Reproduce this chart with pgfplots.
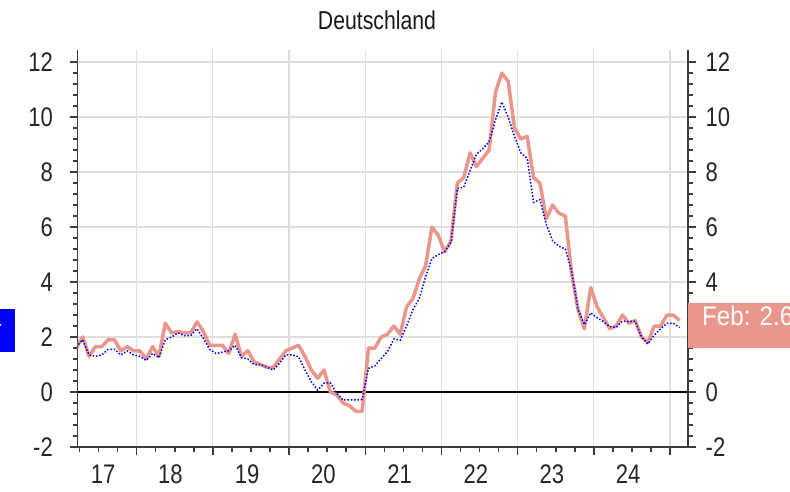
\documentclass[border=0pt]{standalone}
\usepackage{fontspec}
\setmainfont{Liberation Sans}[FakeStretch=0.82]
\newfontfamily\boxfont{Liberation Sans}[FakeStretch=0.9]
\usepackage{pgfplots}
\usepackage{pgfplotstable}
\pgfplotsset{compat=1.18}
\definecolor{salmon}{RGB}{233,150,140}
\definecolor{gridc}{RGB}{222,222,222}
\definecolor{axisc}{RGB}{60,60,60}

\pgfplotstableread{
x s b
2.5 1.6 1.64
3.5 2.0 1.9
4.5 1.3 1.35
5.5 1.65 1.3
6.5 1.65 1.35
7.5 1.9 1.55
8.5 1.9 1.55
9.5 1.5 1.35
10.5 1.65 1.5
11.5 1.5 1.35
12.5 1.5 1.3
13.5 1.2 1.15
14.5 1.65 1.4
15.5 1.3 1.25
16.5 2.5 1.9
17.5 2.15 2.0
18.5 2.2 2.15
19.5 2.15 2.05
20.5 2.15 2.05
21.5 2.55 2.3
22.5 2.2 1.95
23.5 1.7 1.55
24.5 1.7 1.4
25.5 1.7 1.45
26.5 1.4 1.5
27.5 2.1 1.7
28.5 1.3 1.25
29.5 1.5 1.2
30.5 1.1 1.0
31.5 1.0 1.0
32.5 0.9 0.9
33.5 0.9 0.8
34.5 1.2 1.05
35.5 1.5 1.35
36.5 1.6 1.35
37.5 1.7 1.28
38.5 1.3 0.8
39.5 0.8 0.38
40.5 0.5 0.07
41.5 0.8 0.32
42.5 0.0 0.34
43.5 -0.1 -0.05
44.5 -0.4 -0.29
45.5 -0.5 -0.29
46.5 -0.7 -0.29
47.5 -0.7 -0.27
48.5 1.6 0.86
49.5 1.6 0.95
50.5 2.0 1.22
51.5 2.1 1.47
52.5 2.4 1.93
53.5 2.1 1.89
54.5 3.1 2.4
55.5 3.4 3.0
56.5 4.1 3.4
57.5 4.6 4.2
58.5 6.0 4.85
59.5 5.7 5.0
60.5 5.1 5.1
61.5 5.5 5.45
62.5 7.6 7.4
63.5 7.8 7.45
64.5 8.7 8.05
65.5 8.2 8.65
66.5 8.5 8.85
67.5 8.8 9.1
68.5 10.9 9.9
69.5 11.6 10.55
70.5 11.3 10.0
71.5 9.6 9.3
72.5 9.2 8.7
73.5 9.3 8.5
74.5 7.8 6.9
75.5 7.6 7.0
76.5 6.3 6.1
77.5 6.8 5.5
78.5 6.5 5.3
79.5 6.4 5.2
80.5 4.3 4.4
81.5 3.0 3.0
82.5 2.3 2.45
83.5 3.8 2.88
84.5 3.1 2.7
85.5 2.7 2.56
86.5 2.3 2.38
87.5 2.4 2.35
88.5 2.8 2.58
89.5 2.5 2.56
90.5 2.6 2.58
91.5 2.0 2.0
92.5 1.8 1.75
93.5 2.4 2.07
94.5 2.4 2.3
95.5 2.8 2.5
96.5 2.8 2.5
97.5 2.6 2.35
}\data

\pgfplotsset{
  common/.style={
    at={(77.5bp,45bp)}, anchor=south west, scale only axis,
    width=610.5bp, height=397bp,
    xmin=2.68, xmax=98.82, ymin=-2, ymax=12.44,
    axis line style={-, draw=axisc, line width=1.5bp},
    tick align=outside, major tick length=8bp, minor tick length=4.5bp,
    tick style={draw=axisc, line width=1.5bp},
    ytick={-2,0,...,12}, minor y tick num=4,
    /pgf/number format/assume math mode=true,
    tick label style={font=\fontsize{27}{30}\selectfont, inner sep=0pt, text=black!85},
  }
}

\begin{document}
\begin{tikzpicture}
\useasboundingbox (0,0) rectangle (790bp,492bp);
\begin{axis}[common,
  axis x line*=bottom, axis y line*=left,
  xtick={12,24,...,96}, xticklabels={},
  minor xtick={3,6,...,96},
  extra x ticks={6.7,17.3,29.4,41.4,53.4,65.4,77.4,89.4},
  extra x tick labels={17,18,19,20,21,22,23,24},
  extra x tick style={major tick length=0pt, grid=none},
  xticklabel style={anchor=base, yshift=-36bp},
  yticklabel pos=left,
  yticklabel style={anchor=east, xshift=-16.5bp},
  xmajorgrids, ymajorgrids,
  major grid style={draw=gridc, line width=1.2bp},
]
\addplot[black, line width=1.5bp, forget plot] coordinates {(2.68,0) (98.82,0)};
\addplot[salmon, line width=3.5bp, line join=round] table[x=x, y=s] {\data};
\addplot[blue, line width=1.5bp, dash pattern=on 1.5bp off 1.8bp] table[x=x, y=b] {\data};
\end{axis}
\begin{axis}[common,
  axis x line=none, axis y line*=right,
  xtick=\empty,
  yticklabel pos=right,
  yticklabel style={anchor=west, xshift=9.5bp},
]
\coordinate (R) at (axis cs:98.82,2.47);
\coordinate (L) at (axis cs:2.68,2.24);
\end{axis}
\node[anchor=base, font=\fontsize{26}{30}\selectfont, text=black!90] at (377bp,462.7bp) {Deutschland};
\node[fill=salmon, anchor=west, inner xsep=14bp, inner ysep=0pt, text height=22bp, text depth=23bp,
  text=white, font=\boxfont\fontsize{27}{30}\selectfont, yshift=-1.5bp] at (R) {Feb: 2.6\hspace{30bp}};
\node[fill=blue, anchor=east, inner xsep=13bp, inner ysep=0pt, text height=22bp, text depth=21bp,
  text=white, font=\boxfont\fontsize{27}{30}\selectfont, xshift=-62.5bp] at (L) {Feb: 2.4};
\end{tikzpicture}
\end{document}
